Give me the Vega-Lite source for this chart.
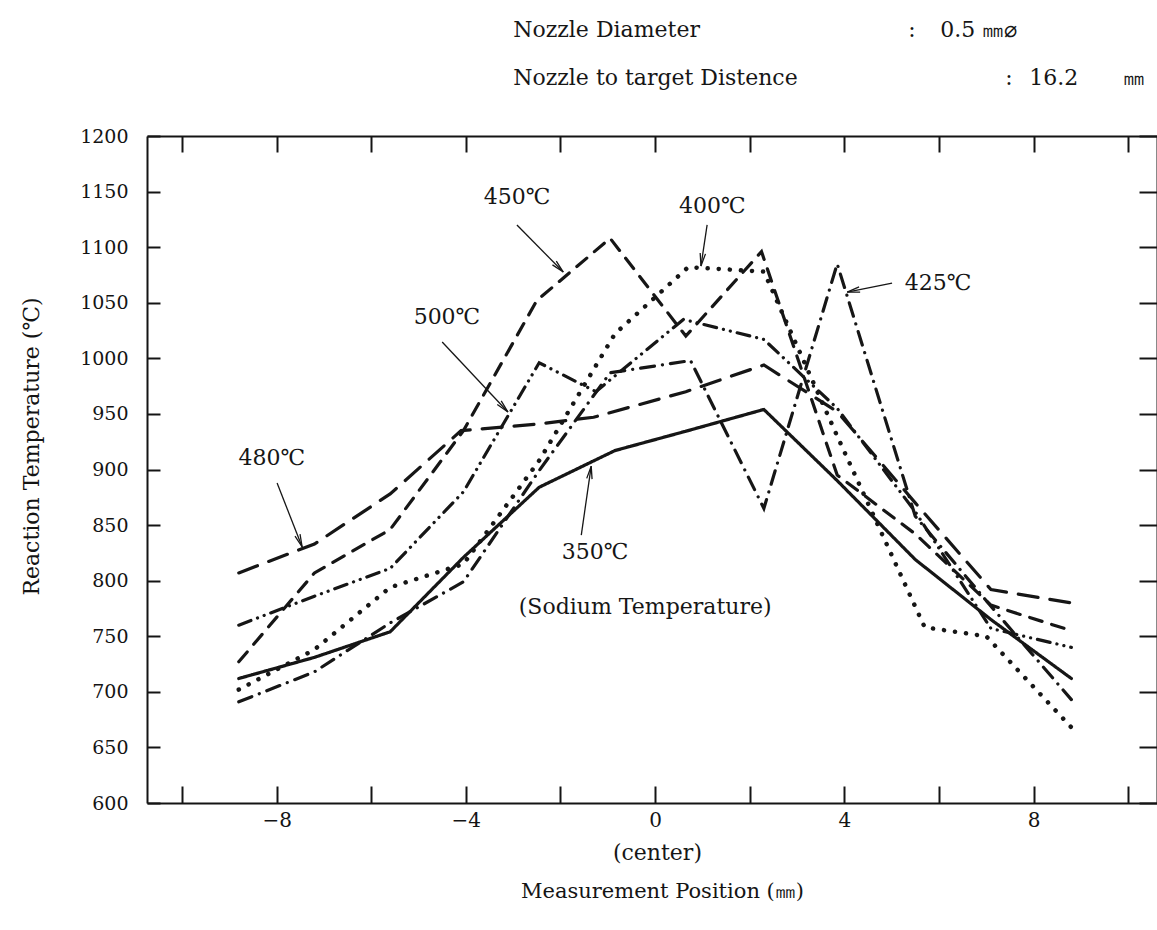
{
  "$schema": "https://vega.github.io/schema/vega-lite/v6.json",
  "width": 1010,
  "height": 667,
  "autosize": {"type": "none"},
  "padding": {"left": 147, "top": 136, "right": 0, "bottom": 127},
  "background": "white",
  "config": {
    "font": "DejaVu Serif",
    "view": {"stroke": null},
    "axis": {
      "domainColor": "#141414", "domainWidth": 2, "tickColor": "#141414", "tickWidth": 2,
      "labelColor": "#141414", "titleColor": "#141414", "grid": false,
      "labelFont": "DejaVu Serif", "titleFont": "DejaVu Serif", "titleFontWeight": "normal"
    }
  },
  "datasets": {
    "curves": [
      {"series": "350℃", "position": -8.8, "temperature": 712},
      {"series": "350℃", "position": -7.2, "temperature": 731},
      {"series": "350℃", "position": -5.6, "temperature": 754},
      {"series": "350℃", "position": -4.05, "temperature": 821},
      {"series": "350℃", "position": -2.45, "temperature": 884},
      {"series": "350℃", "position": -0.85, "temperature": 917},
      {"series": "350℃", "position": 0.7, "temperature": 935},
      {"series": "350℃", "position": 2.3, "temperature": 954},
      {"series": "350℃", "position": 3.85, "temperature": 890},
      {"series": "350℃", "position": 5.5, "temperature": 819},
      {"series": "350℃", "position": 7.1, "temperature": 765},
      {"series": "350℃", "position": 8.8, "temperature": 712},
      {"series": "450℃", "position": -8.8, "temperature": 727},
      {"series": "450℃", "position": -7.2, "temperature": 807},
      {"series": "450℃", "position": -5.6, "temperature": 846},
      {"series": "450℃", "position": -4.05, "temperature": 935},
      {"series": "450℃", "position": -2.5, "temperature": 1052},
      {"series": "450℃", "position": -0.95, "temperature": 1108},
      {"series": "450℃", "position": 0.65, "temperature": 1020},
      {"series": "450℃", "position": 2.25, "temperature": 1096},
      {"series": "450℃", "position": 3.85, "temperature": 895},
      {"series": "450℃", "position": 5.5, "temperature": 842},
      {"series": "450℃", "position": 7.1, "temperature": 778},
      {"series": "450℃", "position": 8.8, "temperature": 755},
      {"series": "480℃", "position": -8.8, "temperature": 807},
      {"series": "480℃", "position": -7.2, "temperature": 833},
      {"series": "480℃", "position": -5.6, "temperature": 878},
      {"series": "480℃", "position": -4.1, "temperature": 935},
      {"series": "480℃", "position": -2.45, "temperature": 941},
      {"series": "480℃", "position": -1.3, "temperature": 947},
      {"series": "480℃", "position": 0.65, "temperature": 970},
      {"series": "480℃", "position": 2.3, "temperature": 994},
      {"series": "480℃", "position": 3.85, "temperature": 952},
      {"series": "480℃", "position": 5.5, "temperature": 870},
      {"series": "480℃", "position": 7.1, "temperature": 792},
      {"series": "480℃", "position": 8.8, "temperature": 780},
      {"series": "425℃", "position": -8.8, "temperature": 691},
      {"series": "425℃", "position": -7.2, "temperature": 718},
      {"series": "425℃", "position": -5.6, "temperature": 762},
      {"series": "425℃", "position": -4.05, "temperature": 799},
      {"series": "425℃", "position": -2.45, "temperature": 899},
      {"series": "425℃", "position": -0.95, "temperature": 987},
      {"series": "425℃", "position": 0.75, "temperature": 998},
      {"series": "425℃", "position": 2.3, "temperature": 865},
      {"series": "425℃", "position": 3.85, "temperature": 1085},
      {"series": "425℃", "position": 5.5, "temperature": 858},
      {"series": "425℃", "position": 7.1, "temperature": 777},
      {"series": "425℃", "position": 8.8, "temperature": 693},
      {"series": "500℃", "position": -8.8, "temperature": 760},
      {"series": "500℃", "position": -7.2, "temperature": 786},
      {"series": "500℃", "position": -5.6, "temperature": 811},
      {"series": "500℃", "position": -4.05, "temperature": 880},
      {"series": "500℃", "position": -2.45, "temperature": 996},
      {"series": "500℃", "position": -1.25, "temperature": 970},
      {"series": "500℃", "position": 0.6, "temperature": 1035},
      {"series": "500℃", "position": 2.3, "temperature": 1017},
      {"series": "500℃", "position": 3.85, "temperature": 955},
      {"series": "500℃", "position": 5.5, "temperature": 862},
      {"series": "500℃", "position": 7.1, "temperature": 757},
      {"series": "500℃", "position": 8.8, "temperature": 740}
    ],
    "dotted": [
      {"series": "400℃", "position": -8.8, "temperature": 702},
      {"series": "400℃", "position": -7.2, "temperature": 738},
      {"series": "400℃", "position": -5.6, "temperature": 794},
      {"series": "400℃", "position": -4.05, "temperature": 815},
      {"series": "400℃", "position": -2.45, "temperature": 908},
      {"series": "400℃", "position": -0.85, "temperature": 1022},
      {"series": "400℃", "position": 0.7, "temperature": 1082},
      {"series": "400℃", "position": 2.3, "temperature": 1078},
      {"series": "400℃", "position": 3.85, "temperature": 930},
      {"series": "400℃", "position": 5.7, "temperature": 758},
      {"series": "400℃", "position": 7.0, "temperature": 750},
      {"series": "400℃", "position": 8.8, "temperature": 668}
    ],
    "arrows": [
      {"label": "450℃", "x": -2.92, "y": 1120, "x2": -1.94, "y2": 1077.6},
      {"label": "400℃", "x": 1.1, "y": 1120, "x2": 0.97, "y2": 1083},
      {"label": "425℃", "x": 5.01, "y": 1067.7, "x2": 4.06, "y2": 1059.6},
      {"label": "500℃", "x": -4.5, "y": 1014.7, "x2": -3.11, "y2": 951.7},
      {"label": "480℃", "x": -7.99, "y": 887.8, "x2": -7.46, "y2": 830.3},
      {"label": "350℃", "x": -1.56, "y": 841, "x2": -1.35, "y2": 903}
    ],
    "labels": [
      {"label": "450℃", "x": -2.92, "y": 1145},
      {"label": "400℃", "x": 1.21, "y": 1137},
      {"label": "425℃", "x": 5.98, "y": 1068},
      {"label": "500℃", "x": -4.4, "y": 1037},
      {"label": "480℃", "x": -8.1, "y": 910},
      {"label": "350℃", "x": -1.27, "y": 826},
      {"label": "(Sodium Temperature)", "x": -0.21, "y": 776},
      {"label": "(center)", "x": 0.05, "y": 555}
    ],
    "header": [
      {"label": "Nozzle Diameter", "x": -3.0, "y": 1295},
      {"label": ":", "x": 5.35, "y": 1295},
      {"label": "0.5 ㎜⌀", "x": 6.03, "y": 1295},
      {"label": "Nozzle to target Distence", "x": -3.0, "y": 1252},
      {"label": ":", "x": 7.4, "y": 1252},
      {"label": "16.2", "x": 7.91, "y": 1252},
      {"label": "㎜", "x": 9.9, "y": 1252}
    ]
  },
  "resolve": {"axis": {"x": "independent", "y": "independent"}},
  "layer": [
    {
      "data": {"name": "curves"},
      "mark": {"type": "line", "strokeWidth": 3.2, "strokeCap": "round", "strokeJoin": "miter", "color": "#161616", "clip": false},
      "encoding": {
        "x": {
          "field": "position", "type": "quantitative",
          "scale": {"domain": [-10.74, 10.61], "nice": false, "zero": false},
          "axis": {
            "orient": "bottom",
            "values": [-10, -8, -6, -4, -2, 0, 2, 4, 6, 8, 10],
            "labelExpr": "datum.value % 4 === 0 ? datum.label : ''",
            "tickSize": -17, "labelPadding": 24, "labelFontSize": 20,
            "title": "Measurement Position (㎜)",
            "titleFontSize": 21, "titlePadding": 50, "titleX": 515
          }
        },
        "y": {
          "field": "temperature", "type": "quantitative",
          "scale": {"domain": [600, 1200], "nice": false, "zero": false},
          "axis": {
            "orient": "left", "format": "d",
            "values": [600, 650, 700, 750, 800, 850, 900, 950, 1000, 1050, 1100, 1150, 1200],
            "tickSize": -13, "labelPadding": 32, "labelFontSize": 19,
            "title": "Reaction Temperature (℃)", "titleFontSize": 22, "titlePadding": 36, "titleY": 310
          }
        },
        "strokeDash": {
          "field": "series", "type": "nominal", "legend": null,
          "scale": {
            "domain": ["350℃", "425℃", "450℃", "480℃", "500℃"],
            "range": [[1, 0], [14, 8, 0.1, 8], [13, 10], [20, 12], [13, 7, 0.1, 7, 0.1, 7]]
          }
        },
        "order": {"field": "position", "type": "quantitative"}
      }
    },
    {
      "data": {"name": "dotted"},
      "mark": {"type": "line", "strokeWidth": 4.5, "strokeCap": "round", "strokeDash": [0.1, 11], "color": "#161616", "clip": false},
      "encoding": {
        "x": {"field": "position", "type": "quantitative", "scale": {"domain": [-10.74, 10.61], "nice": false, "zero": false}, "axis": null},
        "y": {"field": "temperature", "type": "quantitative", "scale": {"domain": [600, 1200], "nice": false, "zero": false}, "axis": null},
        "order": {"field": "position", "type": "quantitative"}
      }
    },
    {
      "data": {"name": "arrows"},
      "mark": {"type": "rule", "strokeWidth": 1.3, "color": "#161616", "clip": false},
      "encoding": {
        "x": {
          "field": "x", "type": "quantitative",
          "scale": {"domain": [-10.74, 10.61], "nice": false, "zero": false},
          "axis": {"orient": "top", "values": [-10, -8, -6, -4, -2, 0, 2, 4, 6, 8, 10], "labels": false, "tickSize": -16, "title": null}
        },
        "y": {
          "field": "y", "type": "quantitative",
          "scale": {"domain": [600, 1200], "nice": false, "zero": false},
          "axis": {"orient": "right", "values": [600, 650, 700, 750, 800, 850, 900, 950, 1000, 1050, 1100, 1150, 1200], "labels": false, "tickSize": -18, "title": null}
        },
        "x2": {"field": "x2"},
        "y2": {"field": "y2"}
      }
    },
    {
      "data": {"name": "arrows"},
      "mark": {
        "type": "point", "filled": false, "size": 200, "strokeWidth": 1.3, "color": "#161616", "opacity": 1, "clip": false,
        "shape": "M0,0L-0.38,1.8M0,0L0.38,1.8",
        "angle": {"expr": "atan2(scale('x', datum.x2) - scale('x', datum.x), scale('y', datum.y) - scale('y', datum.y2)) * 180 / PI"}
      },
      "encoding": {
        "x": {"field": "x2", "type": "quantitative", "scale": {"domain": [-10.74, 10.61], "nice": false, "zero": false}, "axis": null},
        "y": {"field": "y2", "type": "quantitative", "scale": {"domain": [600, 1200], "nice": false, "zero": false}, "axis": null}
      }
    },
    {
      "data": {"name": "labels"},
      "mark": {"type": "text", "fontSize": 22, "font": "DejaVu Serif", "align": "center", "baseline": "middle", "color": "#161616", "clip": false},
      "encoding": {
        "x": {"field": "x", "type": "quantitative", "scale": {"domain": [-10.74, 10.61], "nice": false, "zero": false}, "axis": null},
        "y": {"field": "y", "type": "quantitative", "scale": {"domain": [600, 1200], "nice": false, "zero": false}, "axis": null},
        "text": {"field": "label"}
      }
    },
    {
      "data": {"name": "header"},
      "mark": {"type": "text", "fontSize": 22, "font": "DejaVu Serif", "align": "left", "baseline": "middle", "color": "#161616", "clip": false},
      "encoding": {
        "x": {"field": "x", "type": "quantitative", "scale": {"domain": [-10.74, 10.61], "nice": false, "zero": false}, "axis": null},
        "y": {"field": "y", "type": "quantitative", "scale": {"domain": [600, 1200], "nice": false, "zero": false}, "axis": null},
        "text": {"field": "label"}
      }
    }
  ]
}
